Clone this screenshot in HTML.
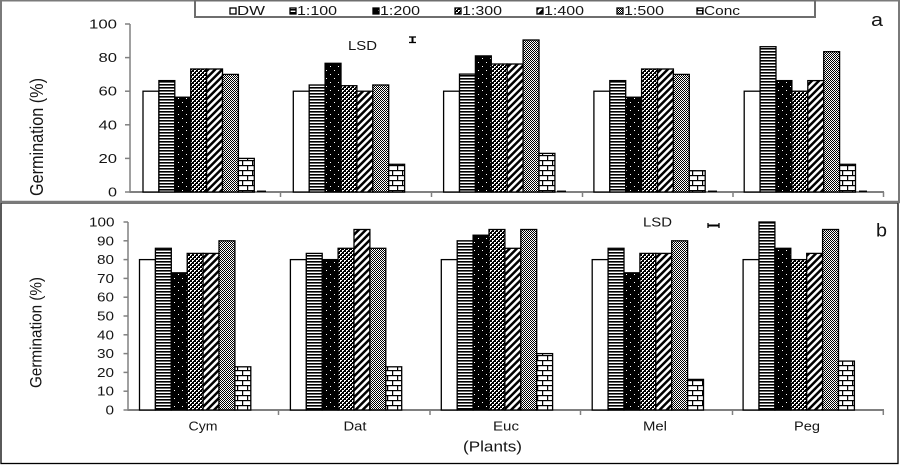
<!DOCTYPE html>
<html><head><meta charset="utf-8"><style>
html,body{margin:0;padding:0;background:#fff;}
svg{display:block;}
text{font-family:"Liberation Sans",Arial,sans-serif;fill:#151515;}
.b rect{stroke:#000;stroke-width:1.3;}
.p0{fill:#fff}.p1{fill:url(#h)}.p2{fill:url(#dot)}.p3{fill:url(#wv)}.p4{fill:url(#dg)}.p5{fill:url(#ck)}.p6{fill:url(#br)}
</style></head><body>
<svg width="902" height="465" viewBox="0 0 902 465" xmlns="http://www.w3.org/2000/svg" shape-rendering="auto">
<defs>
<pattern id="h" width="4" height="3" patternUnits="userSpaceOnUse"><rect width="4" height="3" fill="#fff"/><rect width="4" height="1.6" fill="#000"/></pattern>
<pattern id="dot" width="8" height="8" patternUnits="userSpaceOnUse"><rect width="8" height="8" fill="#000"/><rect x="2" y="2" width="1" height="1" fill="#fff"/><rect x="6" y="6" width="1" height="1" fill="#fff"/></pattern>
<pattern id="wv" width="4" height="4" patternUnits="userSpaceOnUse" shape-rendering="crispEdges"><rect width="4" height="4" fill="#000"/><rect x="0" y="0" width="2" height="1" fill="#fff"/><rect x="0" y="1" width="1" height="1" fill="#fff"/><rect x="2" y="2" width="2" height="1" fill="#fff"/><rect x="2" y="3" width="1" height="1" fill="#fff"/></pattern>
<pattern id="dg" width="5" height="5" patternUnits="userSpaceOnUse" patternTransform="rotate(45)"><rect width="5" height="5" fill="#fff"/><rect width="2.5" height="5" fill="#000"/></pattern>
<pattern id="ck" width="2" height="2" patternUnits="userSpaceOnUse" shape-rendering="crispEdges"><rect width="2" height="2" fill="#fff"/><rect width="1" height="1" fill="#000"/><rect x="1" y="1" width="1" height="1" fill="#000"/></pattern>
<pattern id="br" width="10" height="10" patternUnits="userSpaceOnUse"><rect width="10" height="10" fill="#fff"/><rect y="0" width="10" height="1.2" fill="#000"/><rect y="5" width="10" height="1.2" fill="#000"/><rect x="2" y="0" width="1.2" height="5" fill="#000"/><rect x="7" y="5" width="1.2" height="5" fill="#000"/></pattern>
</defs>

<!-- frames -->
<rect x="1" y="0.5" width="898" height="201.5" fill="none" stroke="#7a7a7a" stroke-width="2"/>
<rect x="1" y="203" width="897" height="260.5" fill="none" stroke="#000" stroke-width="1.3"/>
<line x1="0" y1="202" x2="900" y2="202" stroke="#7a7a7a" stroke-width="2.5"/>

<!-- legend -->
<rect x="195" y="0.5" width="620" height="16.5" fill="#fff" stroke="#6e6e6e" stroke-width="2"/>
<g class="b">
<rect class="p0" x="230" y="8" width="6" height="6"/>
<rect class="p1" x="290" y="8" width="6" height="6"/>
<rect class="p2" x="373" y="8" width="6" height="6"/>
<rect class="p3" x="455" y="8" width="6" height="6"/>
<rect class="p4" x="537" y="8" width="6" height="6"/>
<rect class="p5" x="617" y="8" width="6" height="6"/>
<rect class="p6" x="697" y="8" width="6" height="6"/>
</g>
<g font-size="12.5">
<text x="237" y="15" textLength="28" lengthAdjust="spacingAndGlyphs">DW</text>
<text x="297" y="15" textLength="40" lengthAdjust="spacingAndGlyphs">1:100</text>
<text x="380" y="15" textLength="40" lengthAdjust="spacingAndGlyphs">1:200</text>
<text x="462" y="15" textLength="40" lengthAdjust="spacingAndGlyphs">1:300</text>
<text x="544" y="15" textLength="40" lengthAdjust="spacingAndGlyphs">1:400</text>
<text x="624" y="15" textLength="40" lengthAdjust="spacingAndGlyphs">1:500</text>
<text x="704" y="15" textLength="36" lengthAdjust="spacingAndGlyphs">Conc</text>
</g>

<!-- panel letters -->
<text x="871" y="26" font-size="18" textLength="12" lengthAdjust="spacingAndGlyphs">a</text>
<text x="876" y="236.5" font-size="18" textLength="11" lengthAdjust="spacingAndGlyphs">b</text>

<!-- LSD -->
<text x="348" y="50" font-size="13" textLength="29" lengthAdjust="spacingAndGlyphs">LSD</text>
<g stroke="#000" stroke-width="1.3">
<line x1="409" y1="37" x2="416" y2="37"/><line x1="409" y1="42.5" x2="416" y2="42.5"/><line x1="412.5" y1="37" x2="412.5" y2="42.5" stroke-width="2"/>
</g>
<text x="643" y="226.5" font-size="12.5" textLength="29" lengthAdjust="spacingAndGlyphs">LSD</text>
<g stroke="#000" stroke-width="1.3">
<line x1="708" y1="225.5" x2="719" y2="225.5" stroke-width="2"/><line x1="708" y1="223" x2="708" y2="228"/><line x1="719" y1="223" x2="719" y2="228"/>
</g>

<!-- Y titles -->
<text transform="translate(43,137) scale(1.3,1) rotate(-90)" text-anchor="middle" font-size="14" textLength="118" lengthAdjust="spacingAndGlyphs">Germination (%)</text>
<text transform="translate(41.5,332.5) scale(1.3,1) rotate(-90)" text-anchor="middle" font-size="13" textLength="111" lengthAdjust="spacingAndGlyphs">Germination  (%)</text>

<!-- TOP AXES -->
<g stroke="#808080" stroke-width="1.5">
<line x1="130" y1="24" x2="130" y2="192"/>
<line x1="125" y1="24" x2="130" y2="24"/><line x1="125" y1="57.6" x2="130" y2="57.6"/><line x1="125" y1="91.2" x2="130" y2="91.2"/><line x1="125" y1="124.8" x2="130" y2="124.8"/><line x1="125" y1="158.4" x2="130" y2="158.4"/><line x1="125" y1="192" x2="130" y2="192"/>
<line x1="129.5" y1="192" x2="884" y2="192" stroke-width="2"/>
<line x1="280.5" y1="192" x2="280.5" y2="197"/><line x1="431.5" y1="192" x2="431.5" y2="197"/><line x1="582.5" y1="192" x2="582.5" y2="197"/><line x1="733" y1="192" x2="733" y2="197"/><line x1="883.5" y1="192" x2="883.5" y2="197"/>
</g>
<g font-size="12.5">
<text x="89" y="28.5" textLength="28" lengthAdjust="spacingAndGlyphs">100</text>
<text x="98.5" y="62" textLength="18.5" lengthAdjust="spacingAndGlyphs">80</text>
<text x="98.5" y="95.7" textLength="18.5" lengthAdjust="spacingAndGlyphs">60</text>
<text x="98.5" y="129.3" textLength="18.5" lengthAdjust="spacingAndGlyphs">40</text>
<text x="98.5" y="162.9" textLength="18.5" lengthAdjust="spacingAndGlyphs">20</text>
<text x="108" y="196.5" textLength="9" lengthAdjust="spacingAndGlyphs">0</text>
</g>

<!-- TOP BARS -->
<g class="b">
<rect class="p0" x="143.0" y="91.2" width="15.9" height="100.8"/>
<rect class="p1" x="158.9" y="80.6" width="15.9" height="111.4"/>
<rect class="p2" x="174.8" y="97.2" width="15.9" height="94.8"/>
<rect class="p3" x="190.7" y="69.0" width="15.9" height="123.0"/>
<rect class="p4" x="206.6" y="69.0" width="15.9" height="123.0"/>
<rect class="p5" x="222.5" y="74.4" width="15.9" height="117.6"/>
<rect class="p6" x="238.4" y="158.4" width="15.9" height="33.6"/>
<rect class="p0" x="293.3" y="91.2" width="15.9" height="100.8"/>
<rect class="p1" x="309.2" y="85.0" width="15.9" height="107.0"/>
<rect class="p2" x="325.1" y="63.3" width="15.9" height="128.7"/>
<rect class="p3" x="341.0" y="85.7" width="15.9" height="106.3"/>
<rect class="p4" x="356.9" y="91.2" width="15.9" height="100.8"/>
<rect class="p5" x="372.8" y="85.0" width="15.9" height="107.0"/>
<rect class="p6" x="388.7" y="164.3" width="15.9" height="27.7"/>
<rect class="p0" x="443.6" y="91.2" width="15.9" height="100.8"/>
<rect class="p1" x="459.5" y="74.1" width="15.9" height="117.9"/>
<rect class="p2" x="475.4" y="55.9" width="15.9" height="136.1"/>
<rect class="p3" x="491.3" y="64.0" width="15.9" height="128.0"/>
<rect class="p4" x="507.2" y="64.0" width="15.9" height="128.0"/>
<rect class="p5" x="523.1" y="40.0" width="15.9" height="152.0"/>
<rect class="p6" x="539.0" y="153.4" width="15.9" height="38.6"/>
<rect class="p0" x="593.9" y="91.2" width="15.9" height="100.8"/>
<rect class="p1" x="609.8" y="80.6" width="15.9" height="111.4"/>
<rect class="p2" x="625.7" y="97.2" width="15.9" height="94.8"/>
<rect class="p3" x="641.6" y="69.0" width="15.9" height="123.0"/>
<rect class="p4" x="657.5" y="69.0" width="15.9" height="123.0"/>
<rect class="p5" x="673.4" y="74.4" width="15.9" height="117.6"/>
<rect class="p6" x="689.3" y="170.7" width="15.9" height="21.3"/>
<rect class="p0" x="744.2" y="91.2" width="15.9" height="100.8"/>
<rect class="p1" x="760.1" y="46.7" width="15.9" height="145.3"/>
<rect class="p2" x="776.0" y="80.6" width="15.9" height="111.4"/>
<rect class="p3" x="791.9" y="91.2" width="15.9" height="100.8"/>
<rect class="p4" x="807.8" y="80.6" width="15.9" height="111.4"/>
<rect class="p5" x="823.7" y="51.7" width="15.9" height="140.3"/>
<rect class="p6" x="839.6" y="164.3" width="15.9" height="27.7"/>
</g>
<g stroke="#000" stroke-width="1.5">
<line x1="257" y1="191.3" x2="266" y2="191.3"/>
<line x1="557" y1="191.3" x2="566" y2="191.3"/>
<line x1="708" y1="191.3" x2="717" y2="191.3"/>
<line x1="859" y1="191.3" x2="867" y2="191.3"/>
</g>

<!-- BOTTOM AXES -->
<g stroke="#808080" stroke-width="1.5">
<line x1="128" y1="222" x2="128" y2="410"/>
<line x1="123.5" y1="222" x2="128" y2="222"/><line x1="123.5" y1="240.8" x2="128" y2="240.8"/><line x1="123.5" y1="259.6" x2="128" y2="259.6"/><line x1="123.5" y1="278.4" x2="128" y2="278.4"/><line x1="123.5" y1="297.2" x2="128" y2="297.2"/><line x1="123.5" y1="316" x2="128" y2="316"/><line x1="123.5" y1="334.8" x2="128" y2="334.8"/><line x1="123.5" y1="353.6" x2="128" y2="353.6"/><line x1="123.5" y1="372.4" x2="128" y2="372.4"/><line x1="123.5" y1="391.2" x2="128" y2="391.2"/><line x1="123.5" y1="410" x2="128" y2="410"/>
<line x1="127.5" y1="410" x2="884" y2="410" stroke-width="2"/>
<line x1="278.5" y1="410" x2="278.5" y2="415"/><line x1="430" y1="410" x2="430" y2="415"/><line x1="580.5" y1="410" x2="580.5" y2="415"/><line x1="732.5" y1="410" x2="732.5" y2="415"/><line x1="883.3" y1="410" x2="883.3" y2="415"/>
</g>
<g font-size="12.5">
<text x="89" y="226.5" textLength="25.5" lengthAdjust="spacingAndGlyphs">100</text>
<text x="97" y="245.3" textLength="17" lengthAdjust="spacingAndGlyphs">90</text>
<text x="97" y="264.1" textLength="17" lengthAdjust="spacingAndGlyphs">80</text>
<text x="97" y="282.9" textLength="17" lengthAdjust="spacingAndGlyphs">70</text>
<text x="97" y="301.7" textLength="17" lengthAdjust="spacingAndGlyphs">60</text>
<text x="97" y="320.5" textLength="17" lengthAdjust="spacingAndGlyphs">50</text>
<text x="97" y="339.3" textLength="17" lengthAdjust="spacingAndGlyphs">40</text>
<text x="97" y="358.1" textLength="17" lengthAdjust="spacingAndGlyphs">30</text>
<text x="97" y="376.9" textLength="17" lengthAdjust="spacingAndGlyphs">20</text>
<text x="97" y="395.7" textLength="17" lengthAdjust="spacingAndGlyphs">10</text>
<text x="105.5" y="414.5" textLength="8.5" lengthAdjust="spacingAndGlyphs">0</text>
</g>

<!-- BOTTOM BARS -->
<g class="b">
<rect class="p0" x="139.5" y="259.6" width="15.9" height="150.4"/>
<rect class="p1" x="155.4" y="248.3" width="15.9" height="161.7"/>
<rect class="p2" x="171.3" y="272.8" width="15.9" height="137.2"/>
<rect class="p3" x="187.2" y="253.4" width="15.9" height="156.6"/>
<rect class="p4" x="203.1" y="253.4" width="15.9" height="156.6"/>
<rect class="p5" x="219.0" y="240.8" width="15.9" height="169.2"/>
<rect class="p6" x="234.9" y="366.8" width="15.9" height="43.2"/>
<rect class="p0" x="290.4" y="259.6" width="15.9" height="150.4"/>
<rect class="p1" x="306.3" y="253.4" width="15.9" height="156.6"/>
<rect class="p2" x="322.2" y="259.6" width="15.9" height="150.4"/>
<rect class="p3" x="338.1" y="248.3" width="15.9" height="161.7"/>
<rect class="p4" x="354.0" y="229.5" width="15.9" height="180.5"/>
<rect class="p5" x="369.9" y="248.3" width="15.9" height="161.7"/>
<rect class="p6" x="385.8" y="366.8" width="15.9" height="43.2"/>
<rect class="p0" x="441.3" y="259.6" width="15.9" height="150.4"/>
<rect class="p1" x="457.2" y="240.8" width="15.9" height="169.2"/>
<rect class="p2" x="473.1" y="235.2" width="15.9" height="174.8"/>
<rect class="p3" x="489.0" y="229.5" width="15.9" height="180.5"/>
<rect class="p4" x="504.9" y="248.3" width="15.9" height="161.7"/>
<rect class="p5" x="520.8" y="229.5" width="15.9" height="180.5"/>
<rect class="p6" x="536.7" y="353.6" width="15.9" height="56.4"/>
<rect class="p0" x="592.2" y="259.6" width="15.9" height="150.4"/>
<rect class="p1" x="608.1" y="248.3" width="15.9" height="161.7"/>
<rect class="p2" x="624.0" y="272.8" width="15.9" height="137.2"/>
<rect class="p3" x="639.9" y="253.4" width="15.9" height="156.6"/>
<rect class="p4" x="655.8" y="253.4" width="15.9" height="156.6"/>
<rect class="p5" x="671.7" y="240.8" width="15.9" height="169.2"/>
<rect class="p6" x="687.6" y="379.4" width="15.9" height="30.6"/>
<rect class="p0" x="743.1" y="259.6" width="15.9" height="150.4"/>
<rect class="p1" x="759.0" y="222.0" width="15.9" height="188.0"/>
<rect class="p2" x="774.9" y="248.3" width="15.9" height="161.7"/>
<rect class="p3" x="790.8" y="259.6" width="15.9" height="150.4"/>
<rect class="p4" x="806.7" y="253.4" width="15.9" height="156.6"/>
<rect class="p5" x="822.6" y="229.5" width="15.9" height="180.5"/>
<rect class="p6" x="838.5" y="361.1" width="15.9" height="48.9"/>
</g>

<!-- category labels -->
<g font-size="13">
<text x="188.5" y="430.5" textLength="29" lengthAdjust="spacingAndGlyphs">Cym</text>
<text x="343.5" y="430.5" textLength="23" lengthAdjust="spacingAndGlyphs">Dat</text>
<text x="493" y="430.5" textLength="26" lengthAdjust="spacingAndGlyphs">Euc</text>
<text x="643" y="430.5" textLength="24" lengthAdjust="spacingAndGlyphs">Mel</text>
<text x="794" y="430.5" textLength="26" lengthAdjust="spacingAndGlyphs">Peg</text>
</g>
<text x="463" y="451.5" font-size="14.5" textLength="59" lengthAdjust="spacingAndGlyphs">(Plants)</text>
</svg>
</body></html>
